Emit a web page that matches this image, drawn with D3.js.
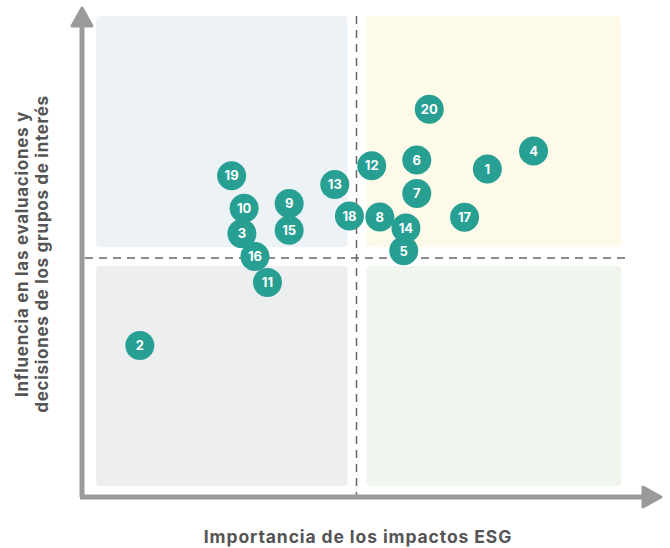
<!DOCTYPE html>
<html>
<head>
<meta charset="utf-8">
<script src="https://cdn.jsdelivr.net/npm/d3@7"></script>
<style>
  body { margin: 0; background: #fff; }
  svg text { font-family: "Inter", "Open Sans", sans-serif; }
</style>
</head>
<body>
<div id="chart"></div>
<script>
// data (0-10 scale on both axes)
const ids = [1, 2, 3, 4, 5, 6, 7, 8, 9, 10, 11, 12, 13, 14, 15, 16, 17, 18, 19, 20];
const impacto = [7.41, 1.01, 2.89, 8.26, 5.87, 6.11, 6.11, 5.43, 3.76, 2.93, 3.36, 5.28, 4.60, 5.91, 3.76, 3.13, 6.99, 4.87, 2.70, 6.34];
const influencia = [6.86, 3.17, 5.51, 7.24, 5.15, 7.05, 6.35, 5.86, 6.14, 6.04, 4.49, 6.93, 6.54, 5.63, 5.58, 5.03, 5.85, 5.88, 6.72, 8.11];

const xLabel = "Importancia de los impactos ESG";
const yLabel = ["Influencia en las evaluaciones y", "decisiones de los grupos de interés"];

const quadrants = [
  { x0: 0, x1: 5, y0: 5, y1: 10, fill: "#edf2f7" },
  { x0: 5, x1: 10, y0: 5, y1: 10, fill: "#fdfae9" },
  { x0: 0, x1: 5, y0: 0, y1: 5, fill: "#edeef0" },
  { x0: 5, x1: 10, y0: 0, y1: 5, fill: "#f0f5ee" }
];

const width = 670, height = 548;

let svg = d3.select("#chart")
  .append("svg")
    .attr("width", width)
    .attr("height", height);

let x = d3.scaleLinear().domain([0, 10]).range([85, 628]);
let y = d3.scaleLinear().domain([0, 10]).range([497, 19]);

// quadrant backgrounds, with a gap round the dashed lines
let pad = 11, gap = 9;
svg.selectAll("rect.quad")
  .data(quadrants)
  .enter()
  .append("rect")
    .attr("class", "quad")
    .attr("x", d => d.x0 === 0 ? x(0) + pad : x(5) + gap + 1)
    .attr("width", d => d.x0 === 0 ? x(5) - gap - x(0) - pad : x(10) - pad + 4 - x(5) - gap - 1)
    .attr("y", d => d.y1 === 10 ? 16 : y(5) + gap - 1)
    .attr("height", d => d.y1 === 10 ? y(5) - gap - 2 - 16 : y(0) - pad - y(5) - gap + 1)
    .attr("rx", 4)
    .attr("fill", d => d.fill);

// dashed midlines
svg.append("line")
  .attr("x1", x(5)).attr("x2", x(5))
  .attr("y1", 16).attr("y2", y(0))
  .attr("stroke", "#666").attr("stroke-width", 1.5)
  .attr("stroke-dasharray", "8,6");

svg.append("line")
  .attr("x1", x(0)).attr("x2", x(10))
  .attr("y1", y(5)).attr("y2", y(5))
  .attr("stroke", "#666").attr("stroke-width", 1.5)
  .attr("stroke-dasharray", "8,6");

// axes with arrow heads
let axisColor = "#9a9a9a";
svg.append("path")
  .attr("d", `M82,${y(0)} L82,22 M80,${y(0)} L650,${y(0)}`)
  .attr("stroke", axisColor)
  .attr("stroke-width", 5)
  .attr("fill", "none");

svg.append("path")
  .attr("d", "M82,8 L92,26 L72,26 Z")
  .attr("fill", axisColor)
  .attr("stroke", axisColor)
  .attr("stroke-width", 3)
  .attr("stroke-linejoin", "round");

svg.append("path")
  .attr("d", `M661,${y(0)} L643,${y(0) - 10} L643,${y(0) + 10} Z`)
  .attr("fill", axisColor)
  .attr("stroke", axisColor)
  .attr("stroke-width", 3)
  .attr("stroke-linejoin", "round");

// axis titles
svg.append("text")
  .attr("x", 358)
  .attr("y", 543)
  .attr("text-anchor", "middle")
  .attr("font-size", 17.5)
  .attr("font-weight", 700)
  .attr("letter-spacing", 0.9)
  .attr("fill", "#555")
  .text(xLabel);

svg.append("text")
  .attr("transform", "translate(28, 254) rotate(-90)")
  .attr("text-anchor", "middle")
  .attr("font-size", 17)
  .attr("font-weight", 700)
  .attr("letter-spacing", 0.7)
  .attr("fill", "#555")
  .selectAll("tspan")
  .data(yLabel)
  .enter()
  .append("tspan")
    .attr("x", 0)
    .attr("dy", (d, i) => i === 0 ? 0 : 20)
    .text(d => d);

// points
let points = ids.map((id, i) => ({ id: id, x: impacto[i], y: influencia[i] }));

let g = svg.selectAll("g.pt")
  .data(points)
  .enter()
  .append("g")
    .attr("class", "pt")
    .attr("transform", d => `translate(${x(d.x)}, ${y(d.y)})`);

g.append("circle")
  .attr("r", 14.5)
  .attr("fill", "#27a093");

g.append("text")
  .attr("text-anchor", "middle")
  .attr("dy", "0.36em")
  .attr("font-size", 13)
  .attr("font-weight", 700)
  .attr("fill", "#fff")
  .text(d => d.id);
</script>
</body>
</html>
